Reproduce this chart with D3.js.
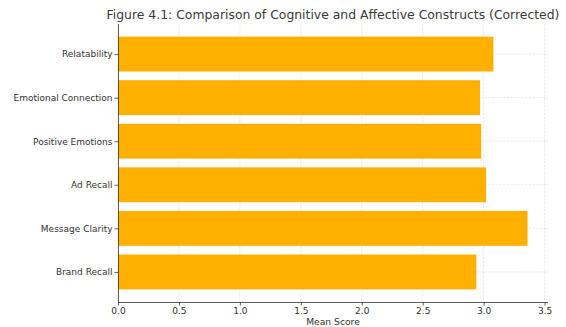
<!DOCTYPE html>
<html>
<head>
<meta charset="utf-8">
<script src="https://cdn.jsdelivr.net/npm/d3@7"></script>
<style>
  html, body { margin: 0; padding: 0; background: #fff; }
  svg { display: block; font-family: "DejaVu Sans", sans-serif; }
</style>
</head>
<body>
<svg id="chart" width="566" height="327"></svg>
<script>
// Mean scores per construct, listed bottom to top
const constructs = ["Brand Recall", "Message Clarity", "Ad Recall", "Positive Emotions", "Emotional Connection", "Relatability"];
const meanScores = [2.94, 3.36, 3.02, 2.98, 2.97, 3.08];
const xTicks = [0, 0.5, 1.0, 1.5, 2.0, 2.5, 3.0, 3.5];
const titleText = "Figure 4.1: Comparison of Cognitive and Affective Constructs (Corrected)";
const xLabel = "Mean Score";

const svg = d3.select("#chart");
const plot = { left: 118, right: 548, top: 24, bottom: 302 };
const textColor = "#333";
const barColor = "#ffb000";

// x: value axis with a small headroom beyond the largest bar
const xMax = d3.max(meanScores) * 1.05;
const x = d3.scaleLinear().domain([0, xMax]).range([plot.left, plot.right]);

// y: category index, bars 0.8 wide with 5% padding at both ends
const n = constructs.length;
const yPad = (n - 0.2) * 0.05;
const y = d3.scaleLinear().domain([-0.4 - yPad, n - 0.6 + yPad]).range([plot.bottom, plot.top]);

// gridlines
const grid = svg.append("g").attr("stroke", "#e6e6e6").attr("stroke-width", 0.8)
  .attr("stroke-dasharray", "2.5,1.2");
grid.selectAll("line.vx").data(xTicks).join("line")
  .attr("x1", d => x(d)).attr("x2", d => x(d))
  .attr("y1", plot.top).attr("y2", plot.bottom);
grid.selectAll("line.hy").data(constructs).join("line")
  .attr("x1", plot.left).attr("x2", plot.right)
  .attr("y1", (d, i) => y(i)).attr("y2", (d, i) => y(i));

// bars
svg.append("g").selectAll("rect").data(meanScores).join("rect")
  .attr("x", x(0))
  .attr("y", (d, i) => y(i + 0.4))
  .attr("width", d => x(d) - x(0))
  .attr("height", (d, i) => y(i - 0.4) - y(i + 0.4))
  .attr("fill", barColor);

// x axis
const xAxis = svg.append("g").attr("transform", `translate(0,${plot.bottom})`)
  .call(d3.axisBottom(x).tickValues(xTicks).tickFormat(d3.format(".1f")).tickSizeOuter(0).tickSize(3.5).tickPadding(2));
// y axis
const yAxis = svg.append("g").attr("transform", `translate(${plot.left},0)`)
  .call(d3.axisLeft(y).tickValues(d3.range(n)).tickFormat(i => constructs[i]).tickSizeOuter(0).tickSize(3.5).tickPadding(2));

[xAxis, yAxis].forEach(ax => {
  ax.select(".domain").attr("stroke", "#333").attr("stroke-width", 0.8);
  ax.selectAll(".tick line").attr("stroke", "#333").attr("stroke-width", 0.8);
  ax.selectAll(".tick text").attr("fill", textColor).attr("font-size", 9.0)
    .attr("font-family", "DejaVu Sans, sans-serif");
});
// extend spines across the full plot area
xAxis.select(".domain").attr("d", `M${plot.left},0.5H${plot.right}`);
yAxis.select(".domain").attr("d", `M0.5,${plot.top}V${plot.bottom}`);

// axis label
svg.append("text")
  .attr("x", (plot.left + plot.right) / 2).attr("y", 324.5)
  .attr("text-anchor", "middle").attr("font-size", 9.2).attr("fill", textColor)
  .text(xLabel);

// title
svg.append("text")
  .attr("x", (plot.left + plot.right) / 2).attr("y", 18.5)
  .attr("text-anchor", "middle").attr("font-size", 12.4).attr("fill", "#3a3a3a")
  .text(titleText);
</script>
</body>
</html>
